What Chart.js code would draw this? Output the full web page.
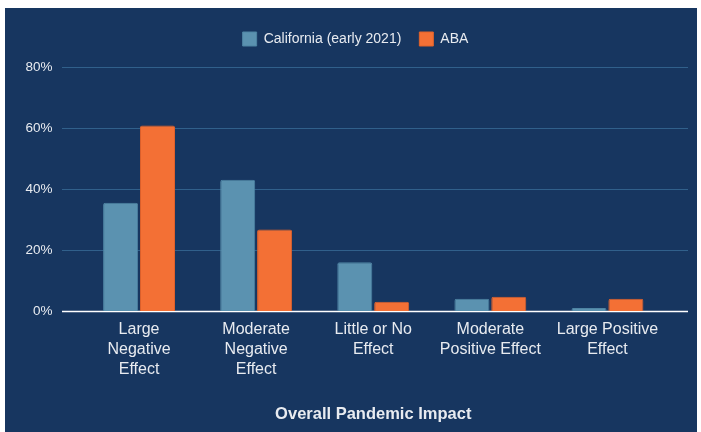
<!DOCTYPE html>
<html>
<head>
<meta charset="utf-8">
<script src="https://cdn.jsdelivr.net/npm/chart.js@4"></script>
<style>
  html, body { margin: 0; padding: 0; background: #ffffff; }
  canvas { display: block; }
</style>
</head>
<body>
<canvas id="myChart" width="701" height="432"></canvas>
<script>
// chart data
var categories = [
    ["Large", "Negative", "Effect"],
    ["Moderate", "Negative", "Effect"],
    ["Little or No", "Effect"],
    ["Moderate", "Positive Effect"],
    ["Large Positive", "Effect"]
];
var california = [35.5, 43, 16, 4, 1];
var aba = [60.8, 26.7, 3, 4.7, 4];
var yTicks = [0, 20, 40, 60, 80];

var navy = "#173660";
var textColor = "#e8ebf0";

// dark panel behind the chart, and the horizontal rules that run past the bars
var backdrop = {
    id: "backdrop",
    beforeInit: function (chart) {
        var legend = chart.legend;
        if (!legend) return;
        var fit = legend.fit;
        legend.fit = function () {
            fit.call(legend);
            legend.height += 11;
        };
    },
    afterLayout: function (chart) {
        // legend sits a bit right of the canvas centre in the original
        if (chart.legend) {
            chart.legend.left += 20;
            chart.legend.right += 20;
        }
    },
    beforeDraw: function (chart) {
        var ctx = chart.ctx;
        ctx.save();
        ctx.fillStyle = navy;
        ctx.fillRect(5, 8, 692, 424);
        ctx.restore();
    },
    beforeDatasetsDraw: function (chart) {
        var ctx = chart.ctx;
        var y = chart.scales.y;
        var x0 = chart.chartArea.left - 18.5;
        var x1 = chart.chartArea.right + 22;
        ctx.save();
        for (var i = 0; i < yTicks.length; i++) {
            var py = Math.round(y.getPixelForValue(yTicks[i])) + 0.5;
            ctx.strokeStyle = yTicks[i] === 0 ? "#ffffff" : "#31608b";
            ctx.lineWidth = yTicks[i] === 0 ? 1.5 : 1;
            ctx.beginPath();
            ctx.moveTo(x0, py);
            ctx.lineTo(x1, py);
            ctx.stroke();
        }
        ctx.restore();
    }
};

new Chart(document.getElementById("myChart"), {
    type: "bar",
    data: {
        labels: categories,
        datasets: [
            {
                label: "California (early 2021)",
                data: california,
                backgroundColor: "#5b92b0",
                borderColor: "#4e84a3",
                borderWidth: 1,
                borderRadius: 2,
                categoryPercentage: 0.63,
                barPercentage: 0.95
            },
            {
                label: "ABA",
                data: aba,
                backgroundColor: "#f37035",
                borderColor: "#e0622b",
                borderWidth: 1,
                borderRadius: 2,
                categoryPercentage: 0.63,
                barPercentage: 0.95
            }
        ]
    },
    plugins: [backdrop],
    options: {
        responsive: false,
        animation: false,
        layout: {
            padding: { left: 5, right: 35, top: 14, bottom: 0 }
        },
        plugins: {
            legend: {
                position: "top",
                labels: {
                    color: textColor,
                    font: { family: "'Liberation Sans', Arial, sans-serif", size: 14 },
                    boxWidth: 14,
                    boxHeight: 14,
                    padding: 18
                }
            },
            tooltip: { enabled: false }
        },
        scales: {
            x: {
                grid: { display: false, drawTicks: false },
                border: { display: false },
                ticks: {
                    color: textColor,
                    font: { family: "'Liberation Sans', Arial, sans-serif", size: 16, lineHeight: 1.25 },
                    maxRotation: 0,
                    autoSkip: false,
                    padding: 9
                },
                title: {
                    display: true,
                    text: "Overall Pandemic Impact",
                    color: textColor,
                    font: { family: "'Liberation Sans', Arial, sans-serif", size: 16.5, weight: "bold" },
                    padding: { top: 0, bottom: 8 }
                },
                afterFit: function (scale) { scale.height = 121; }
            },
            y: {
                min: 0,
                max: 80,
                grid: { display: false, drawTicks: false },
                border: { display: false },
                ticks: {
                    stepSize: 20,
                    color: textColor,
                    padding: 28,
                    font: { family: "'Liberation Sans', Arial, sans-serif", size: 13.5 },
                    callback: function (v) { return v + "%"; }
                },
                afterFit: function (scale) { scale.width = 75.5; }
            }
        }
    }
});
</script>
</body>
</html>
